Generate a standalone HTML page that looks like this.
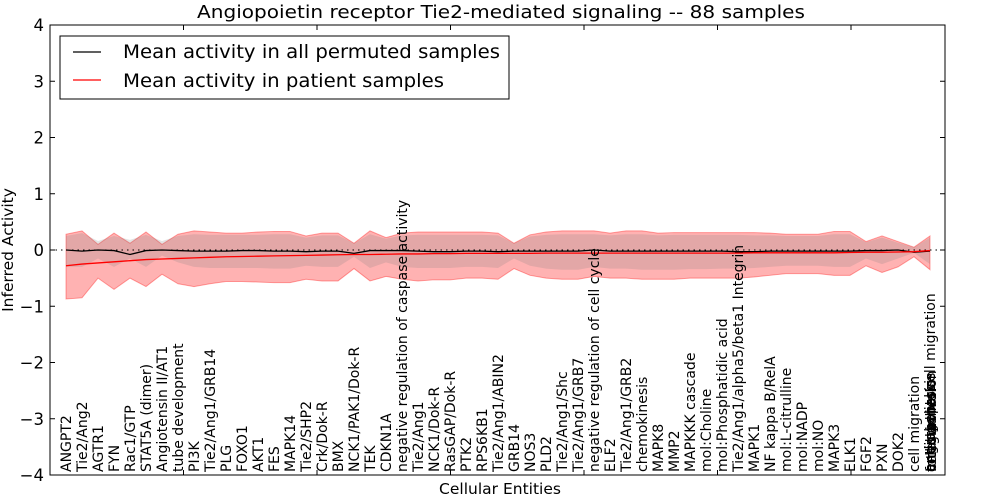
<!DOCTYPE html>
<html><head><meta charset="utf-8"><style>
body{margin:0;background:#fff;}
svg{display:block;font-family:"DejaVu Sans","Liberation Sans",sans-serif;}
</style></head><body>
<svg id="chart" width="1000" height="500"></svg>
<script>
const labels=["ANGPT2","Tie2/Ang2","AGTR1","FYN","Rac1/GTP","STAT5A (dimer)","Angiotensin II/AT1","tube development","PI3K","Tie2/Ang1/GRB14","PLG","FOXO1","AKT1","FES","MAPK14","Tie2/SHP2","Crk/Dok-R","BMX","NCK1/PAK1/Dok-R","TEK","CDKN1A","negative regulation of caspase activity","Tie2/Ang1","NCK1/Dok-R","RasGAP/Dok-R","PTK2","RPS6KB1","Tie2/Ang1/ABIN2","GRB14","NOS3","PLD2","Tie2/Ang1/Shc","Tie2/Ang1/GRB7","negative regulation of cell cycle","ELF2","Tie2/Ang1/GRB2","chemokinesis","MAPK8","MMP2","MAPKKK cascade","mol:Choline","mol:Phosphatidic acid","Tie2/Ang1/alpha5/beta1 Integrin","MAPK1","NF kappa B/RelA","mol:L-citrulline","mol:NADP","mol:NO","MAPK3","ELK1","FGF2","PXN","DOK2","cell migration"];
const clusterLabels=["angiogenesis","cell survival","endothelial cell migration","focal adhesion","anti-apoptosis","Integrin"];
const patHi=[.28,.34,.1,.3,.12,.32,.1,.28,.34,.32,.3,.3,.32,.33,.33,.25,.3,.3,.12,.34,.22,.3,.32,.32,.32,.32,.32,.3,.12,.27,.32,.34,.34,.34,.3,.34,.34,.3,.31,.31,.31,.31,.31,.31,.3,.28,.28,.28,.33,.33,.15,.25,.15,.05,.25];
const patLo=[-.87,-.85,-.5,-.7,-.5,-.65,-.43,-.6,-.65,-.6,-.56,-.56,-.57,-.58,-.58,-.52,-.55,-.55,-.33,-.55,-.47,-.52,-.55,-.53,-.53,-.5,-.5,-.52,-.33,-.45,-.5,-.52,-.52,-.47,-.5,-.5,-.52,-.52,-.52,-.5,-.5,-.5,-.5,-.48,-.45,-.42,-.42,-.42,-.45,-.45,-.28,-.4,-.3,-.12,-.35];
const permHi=[.25,.3,.16,.25,.18,.27,.16,.25,.28,.27,.27,.27,.27,.28,.28,.22,.26,.26,.12,.28,.2,.26,.27,.27,.27,.27,.27,.26,.12,.24,.27,.28,.28,.28,.26,.28,.28,.26,.27,.27,.27,.27,.27,.26,.26,.25,.25,.25,.28,.28,.14,.22,.13,.05,.22];
const permLo=[-.3,-.3,-.15,-.3,-.15,-.3,-.1,-.22,-.3,-.32,-.32,-.32,-.32,-.33,-.33,-.28,-.3,-.3,-.12,-.32,-.22,-.3,-.32,-.32,-.32,-.3,-.3,-.32,-.15,-.28,-.33,-.35,-.35,-.3,-.33,-.33,-.35,-.35,-.35,-.34,-.34,-.33,-.33,-.32,-.3,-.28,-.28,-.28,-.3,-.3,-.15,-.25,-.15,-.05,-.25];
const permMean=[0,-.02,0,-.01,-.08,-.01,0,-.01,-.02,-.02,-.02,-.01,-.01,-.02,-.02,-.03,-.02,-.02,-.06,-.01,-.01,-.01,-.02,-.03,-.03,-.02,-.02,-.03,-.02,-.02,-.02,-.02,-.02,0,-.02,-.02,-.02,-.02,-.02,-.02,-.02,-.02,-.03,-.03,-.02,-.02,-.02,-.02,-.02,-.02,-.01,-.01,0,-.04,-.02];
const patMean=[-.28,-.25,-.23,-.21,-.19,-.17,-.16,-.15,-.14,-.13,-.12,-.115,-.11,-.105,-.1,-.095,-.09,-.085,-.08,-.08,-.075,-.07,-.07,-.065,-.065,-.06,-.06,-.06,-.06,-.06,-.055,-.055,-.055,-.055,-.055,-.055,-.055,-.055,-.055,-.055,-.055,-.055,-.055,-.05,-.05,-.05,-.05,-.05,-.05,-.045,-.04,-.04,-.035,-.03,-.01];
const yTicks=[-4,-3,-2,-1,0,1,2,3,4];

const NS="http://www.w3.org/2000/svg";
const svg=document.getElementById('chart');
const L=50,R=945,T=25,B=475;
const x=i=>66+i*16.0;
const y=v=>250-v*56.25;
function el(tag,attrs,parent){const e=document.createElementNS(NS,tag);for(const k in attrs)e.setAttribute(k,attrs[k]);(parent||svg).appendChild(e);return e;}
function band(hi,lo){let d='';hi.forEach((v,i)=>{d+=(i?'L':'M')+x(i)+','+y(v);});for(let i=lo.length-1;i>=0;i--)d+='L'+x(i)+','+y(lo[i]);return d+'Z';}
function line(a){return a.map((v,i)=>(i?'L':'M')+x(i)+','+y(v)).join('');}

const pb=el('path',{d:band(patHi,patLo),fill:'rgba(255,0,0,0.3)',stroke:'rgba(255,0,0,0.35)','stroke-width':1});


const gb=el('path',{d:band(permHi,permLo),fill:'rgba(128,128,128,0.22)',stroke:'none'});


const zl=el('line',{x1:L,x2:R,y1:y(0),y2:y(0),stroke:'#000','stroke-dasharray':'1.5,4'});


const pm=el('path',{d:line(permMean),fill:'none',stroke:'#000','stroke-width':1.3});


const rm=el('path',{d:line(patMean),fill:'none',stroke:'#f00','stroke-width':1.3});



const fr=el('rect',{x:L,y:T,width:R-L,height:B-T,fill:'none',stroke:'#000','stroke-width':1});


yTicks.forEach(v=>{
  el('line',{x1:L,x2:L+5,y1:y(v),y2:y(v),stroke:'#000'});
  el('line',{x1:R-5,x2:R,y1:y(v),y2:y(v),stroke:'#000'});
  const t=el('text',{x:L-6,y:y(v)+6,'text-anchor':'end','font-size':16.5});
  t.textContent=(v<0?'\u2212'+(-v):v);
  
  
});
for(let k=1;k<7;k++){const xx=L+133.5*k;el('line',{x1:xx,x2:xx,y1:T,y2:T+5,stroke:'#000'});el('line',{x1:xx,x2:xx,y1:B-5,y2:B,stroke:'#000'});}

labels.forEach((s,i)=>{
  const t=el('text',{transform:`translate(${x(i)+5},${B-3}) rotate(-90)`,'font-size':14});
  t.textContent=s;
  
  
});
clusterLabels.forEach((s,j)=>{
  const t=el('text',{transform:`translate(${x(54)+5+(j%2)},${B-3}) rotate(-90)`,'font-size':14});
  t.textContent=s;
  
  
});

const ti=el('text',{x:197,y:18,'font-size':18,textLength:608,lengthAdjust:'spacingAndGlyphs'});
ti.textContent='Angiopoietin receptor Tie2-mediated signaling -- 88 samples';


const xt=el('text',{x:500,y:494,'text-anchor':'middle','font-size':15.5});
xt.textContent='Cellular Entities';


const yt=el('text',{transform:'translate(13,250) rotate(-90)','text-anchor':'middle','font-size':15.5});
yt.textContent='Inferred Activity';



const lg=el('g',{});


el('rect',{x:60,y:36,width:449,height:63,fill:'#fff',stroke:'#000'},lg);
el('line',{x1:73,x2:101,y1:52,y2:52,stroke:'#000','stroke-width':1.3},lg);
el('line',{x1:73,x2:101,y1:80,y2:80,stroke:'#f00','stroke-width':1.3},lg);
const l1=el('text',{x:123,y:58,'font-size':19,textLength:377,lengthAdjust:'spacingAndGlyphs'},lg);l1.textContent='Mean activity in all permuted samples';


const l2=el('text',{x:123,y:87,'font-size':19,textLength:321,lengthAdjust:'spacingAndGlyphs'},lg);l2.textContent='Mean activity in patient samples';


</script>
</body></html>
